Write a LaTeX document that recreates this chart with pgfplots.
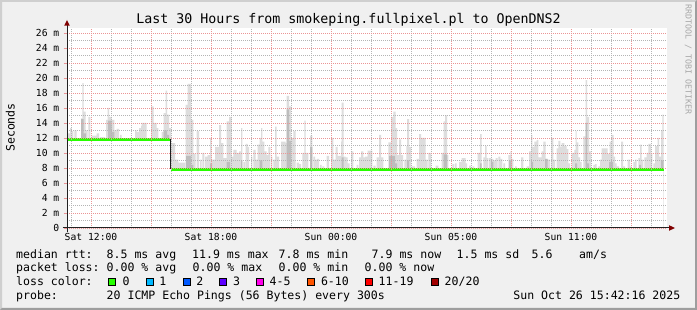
\documentclass[border=0pt]{standalone}
\usepackage{pgfplots}
\pgfplotsset{compat=1.18}
\usepackage{pgfplotstable}
\usepackage{fontspec}
\setmainfont{DejaVu Sans Mono}
\definecolor{bg}{HTML}{F0F0F0}
\definecolor{shadea}{HTML}{CFCFCF}
\definecolor{shadeb}{HTML}{9E9E9E}
\definecolor{mgrid}{HTML}{EB9595}
\definecolor{gridc}{HTML}{B4B4B4}
\definecolor{smokeA}{HTML}{DDDDDD}
\definecolor{smokeB}{HTML}{BDBDBD}
\definecolor{medgreen}{HTML}{26FF00}
\definecolor{arrowc}{HTML}{800000}
\definecolor{axisc}{HTML}{202020}
\definecolor{wmark}{HTML}{A8A8A8}
\definecolor{lc1}{HTML}{00B8FF}
\definecolor{lc2}{HTML}{0059FF}
\definecolor{lc3}{HTML}{5E00FF}
\definecolor{lc4}{HTML}{FF00EA}
\definecolor{lc6}{HTML}{FF5500}
\definecolor{lc11}{HTML}{FF0000}
\definecolor{lc20}{HTML}{A10000}
\newcommand\titlefont{\fontsize{13.3}{15}\selectfont}
\newcommand\legfont{\fontsize{11.55}{13}\selectfont}
\newcommand\tickfont{\fontsize{9.7}{11}\selectfont}
\newcommand\wmfont{\fontsize{8.3}{9}\selectfont}

\pgfplotstableread{
h v
-1.2 11.8
-1.17 12.6
-1.05 13.3
-0.97 12.9
-0.88 11.8
-0.83 13.0
-0.72 11.8
-0.50 14.6
-0.43 19.3
-0.37 15.5
-0.27 13.0
-0.17 11.8
-0.13 14.8
-0.03 11.8
0.03 12.3
0.28 12.6
0.40 11.8
0.45 12.1
0.70 11.8
0.75 14.4
0.83 16.0
0.90 14.8
1.03 14.4
1.17 13.0
1.28 13.2
1.40 11.8
1.45 12.4
1.53 11.8
2.20 13.0
2.28 12.8
2.40 13.3
2.50 13.6
2.53 14.0
2.78 11.8
3.00 16.2
3.13 14.0
3.28 13.3
3.37 11.8
3.53 12.8
3.63 15.3
3.73 18.3
3.80 15.1
3.90 13.3
4.00 11.3
4.20 9.1
4.37 8.7
4.70 7.8
4.73 16.4
4.83 19.2
5.00 14.4
5.12 9.9
5.23 7.8
5.28 12.9
5.40 7.8
5.45 9.1
5.53 7.8
5.57 10.0
5.67 7.8
5.70 9.5
5.83 9.7
5.95 12.0
6.03 9.1
6.20 10.8
6.40 13.7
6.50 11.3
6.62 9.3
6.78 14.2
6.90 14.8
7.03 9.5
7.12 10.4
7.28 10.0
7.40 10.2
7.50 13.3
7.57 7.8
7.62 8.8
7.70 7.8
7.73 11.2
7.83 10.8
7.90 7.8
8.00 9.5
8.07 7.8
8.12 10.4
8.23 9.1
8.33 11.1
8.43 12.0
8.50 13.3
8.57 11.5
8.67 10.2
8.78 9.7
8.87 10.8
8.97 7.8
9.00 9.5
9.07 7.8
9.12 9.1
9.20 13.5
9.28 9.5
9.40 7.8
9.50 11.5
9.73 11.3
9.78 17.6
9.90 16.2
10.00 12.0
10.12 12.9
10.23 7.8
10.28 8.7
10.40 8.5
10.50 7.8
10.57 10.0
10.67 14.3
10.73 10.0
10.87 7.8
10.95 12.3
11.07 7.8
11.12 9.5
11.20 9.1
11.30 9.2
11.40 7.8
11.45 8.4
11.53 7.8
11.57 8.2
11.67 7.8
11.78 9.6
11.90 7.8
12.00 12.0
12.12 9.1
12.23 10.8
12.33 9.6
12.50 11.5
12.53 16.7
12.63 9.5
12.73 9.4
12.83 8.6
12.93 7.8
13.00 10.2
13.12 7.8
13.28 8.4
13.37 7.8
13.40 9.4
13.50 10.2
13.62 9.4
13.70 9.5
13.83 10.3
14.07 7.8
14.12 8.3
14.23 7.8
14.28 9.4
14.40 12.4
14.50 9.4
14.62 7.8
14.87 11.4
15.00 14.8
15.12 15.5
15.23 13.3
15.30 9.7
15.40 11.8
15.50 9.7
15.60 7.8
15.67 9.1
15.77 10.9
15.80 14.5
15.90 10.8
16.00 7.8
16.03 8.2
16.20 7.8
16.28 9.2
16.40 12.5
16.50 12.0
16.73 9.1
16.83 7.8
16.87 10.0
17.00 7.8
17.23 8.3
17.37 7.8
17.53 10.0
17.63 14.2
17.70 15.0
17.80 9.7
17.87 7.8
18.07 8.5
18.17 7.8
18.20 8.6
18.28 7.8
18.40 8.8
18.53 9.3
18.73 8.6
18.80 7.8
18.90 8.3
19.00 7.8
19.07 8.2
19.17 7.8
19.33 10.0
19.45 12.5
19.53 7.8
19.62 9.4
19.70 10.9
19.78 9.3
19.87 7.8
19.90 9.3
20.00 9.2
20.12 9.0
20.23 9.3
20.33 7.8
20.37 9.5
20.47 9.2
20.57 7.8
20.62 8.6
20.70 7.8
20.87 9.7
20.97 10.2
21.03 9.2
21.12 7.8
21.20 8.2
21.28 7.8
21.50 9.4
21.62 7.8
21.78 8.2
21.90 10.2
22.00 12.4
22.07 10.8
22.17 11.5
22.28 11.7
22.37 9.4
22.53 10.2
22.62 11.5
22.73 9.2
22.83 9.1
22.95 7.8
23.00 12.0
23.12 9.1
23.20 7.8
23.28 10.6
23.37 11.6
23.47 10.8
23.53 11.3
23.67 10.9
23.78 10.5
23.87 8.6
23.95 7.8
24.03 10.0
24.17 10.4
24.23 12.9
24.28 11.4
24.37 9.4
24.45 8.8
24.53 7.8
24.62 12.2
24.73 19.7
24.80 14.8
24.90 10.2
25.00 7.8
25.12 8.4
25.20 8.5
25.28 7.8
25.37 8.2
25.45 9.1
25.53 10.6
25.83 9.9
25.93 11.5
26.03 12.4
26.13 9.5
26.20 8.6
26.28 8.2
26.40 7.8
26.50 11.5
26.60 8.2
26.70 7.8
26.83 9.1
26.95 8.2
27.03 7.8
27.12 8.8
27.20 9.1
27.28 7.8
27.37 9.3
27.45 11.1
27.53 9.1
27.62 7.8
27.67 9.4
27.78 10.0
27.87 11.2
28.00 10.0
28.07 7.8
28.12 8.6
28.20 10.9
28.33 12.0
28.40 9.5
28.50 13.0
28.57 15.1
28.63 7.8
}\smokeouter

\pgfplotstableread{
h v
-1.2 11.8
-0.50 14.5
-0.37 12.6
-0.25 11.8
0.85 14.3
1.03 12.8
1.17 11.8
3.63 13.0
3.80 12.4
3.90 11.8
4.00 7.8
4.75 9.6
5.00 8.4
5.12 7.8
5.95 8.6
6.05 7.8
6.78 8.8
6.95 7.8
7.50 9.0
7.57 7.8
8.43 9.0
8.57 7.8
9.78 15.8
9.90 11.6
10.00 7.8
10.95 10.8
11.07 7.8
12.53 9.4
12.63 7.8
14.90 9.6
15.20 8.6
15.30 7.8
15.80 9.0
15.90 7.8
17.63 9.8
17.80 7.8
19.45 8.6
19.53 7.8
20.00 8.8
20.12 7.8
20.90 9.0
21.03 7.8
22.00 8.8
22.10 7.8
22.70 9.2
22.83 7.8
24.20 8.6
24.30 7.8
24.73 14.0
24.80 8.6
24.90 7.8
25.90 8.8
26.10 7.8
27.40 8.4
27.50 7.8
28.50 9.0
28.63 7.8
}\smokeinner

\begin{document}
\begin{tikzpicture}[x=1pt,y=1pt]
\path[use as bounding box] (0,0) rectangle (697,310);
\fill[bg] (0,0) rectangle (697,310);
\fill[shadea] (0,0) -- (0,310) -- (697,310) -- (695,308) -- (2,308) -- (2,2) -- cycle;
\fill[shadeb] (0,0) -- (697,0) -- (697,310) -- (695,308) -- (695,2) -- (2,2) -- cycle;

\begin{axis}[
  at={(67pt,82pt)}, anchor=south west,
  scale only axis, width=600pt, height=200pt,
  xmin=-1.2, xmax=28.8, ymin=0, ymax=26.6667,
  axis line style={draw=none},
  major tick length=0pt, minor tick length=0pt,
  xtick={0,3,...,27},
  xticklabels={Sat 12:00,,Sat 18:00,,Sun 00:00,,Sun 05:00,,Sun 11:00,},
  minor xtick={-1,1,2,4,5,7,8,10,11,13,14,16,17,19,20,22,23,25,26,28},
  ytick={0,2,...,26},
  yticklabels={0,2 m,4 m,6 m,8 m,10 m,12 m,14 m,16 m,18 m,20 m,22 m,24 m,26 m},
  minor ytick={1,3,...,25},
  grid=both,
  major grid style={mgrid, line width=0.8pt, dash pattern=on 1pt off 1pt},
  minor grid style={gridc, line width=0.8pt, dash pattern=on 1pt off 1pt},
  axis on top,
  axis background/.style={fill=white},
  tick label style={font=\tickfont},
  xticklabel style={anchor=north, inner sep=0pt, yshift=-5.5pt},
  yticklabel style={anchor=east, inner sep=0pt, xshift=-7.5pt},
]
\addplot[fill=smokeA, draw=none, const plot] table[x=h,y=v] {\smokeouter} \closedcycle;
\addplot[fill=smokeB, draw=none, const plot] table[x=h,y=v] {\smokeinner} \closedcycle;
\addplot[fill=white, draw=none, const plot] coordinates {(-1.2,11.8) (4.0,7.8) (28.63,7.8)} \closedcycle;
\addplot[axisc, line width=0.9pt] coordinates {(3.98,11.8) (3.98,7.8)};
\addplot[medgreen, line width=2.4pt] coordinates {(-1.2,11.8) (3.97,11.8)};
\addplot[medgreen, line width=2.4pt] coordinates {(4.0,7.8) (28.63,7.8)};
\end{axis}

\draw[axisc, line width=1pt] (62.5,82) -- (670,82);
\fill[arrowc] (669,84.8) -- (675,82) -- (669,79.2) -- cycle;
\draw[axisc, line width=1pt] (67,78) -- (67,285);
\fill[arrowc] (64.2,284.3) -- (67,290) -- (69.8,284.3) -- cycle;
\foreach \v in {0,2,...,26} \draw[mgrid, line width=0.8pt] (63.5,82+\v*7.5) -- (66.5,82+\v*7.5);

\node[anchor=base, inner sep=0pt] at (348.5,286) {\titlefont Last 30 Hours from smokeping.fullpixel.pl to OpenDNS2};
\node[rotate=90, anchor=center, inner sep=0pt] at (10.3,182.5) {\legfont Seconds};
\node[rotate=-90, anchor=west, inner sep=0pt, text=wmark] at (688.3,305.5) {\wmfont RRDTOOL / TOBI OETIKER};

\begin{scope}[every node/.style={anchor=base west, inner sep=0pt, font=\legfont}]
\node at (16,51.7) {median rtt:};
\node at (106.5,51.7) {8.5 ms avg};
\node at (192,51.7) {11.9 ms max};
\node at (278.5,51.7) {7.8 ms min};
\node at (371.5,51.7) {7.9 ms now};
\node at (456.5,51.7) {1.5 ms sd};
\node at (531.5,51.7) {5.6};
\node at (579,51.7) {am/s};
\node at (16,38) {packet loss:};
\node at (106.5,38) {0.00 \% avg};
\node at (192.5,38) {0.00 \% max};
\node at (278.5,38) {0.00 \% min};
\node at (364.5,38) {0.00 \% now};
\node at (16,24.3) {loss color:};
\node at (122.3,24.3) {0};
\node at (159.2,24.3) {1};
\node at (196.2,24.3) {2};
\node at (232.8,24.3) {3};
\node at (269.5,24.3) {4-5};
\node at (320.8,24.3) {6-10};
\node at (378.5,24.3) {11-19};
\node at (444.5,24.3) {20/20};
\node at (16,10.7) {probe:};
\node at (106.5,10.7) {20 ICMP Echo Pings (56 Bytes) every 300s};
\node[anchor=base east] at (680.5,10.7) {Sun Oct 26 15:42:16 2025};
\end{scope}
\foreach \xx/\cc in {108.6/medgreen,146/lc1,183/lc2,219.6/lc3,256.3/lc4,307.6/lc6,365.3/lc11,431.3/lc20}
  \filldraw[fill=\cc, draw=black, line width=0.9pt] (\xx,24.8) rectangle ++(7,7);
\end{tikzpicture}
\end{document}
